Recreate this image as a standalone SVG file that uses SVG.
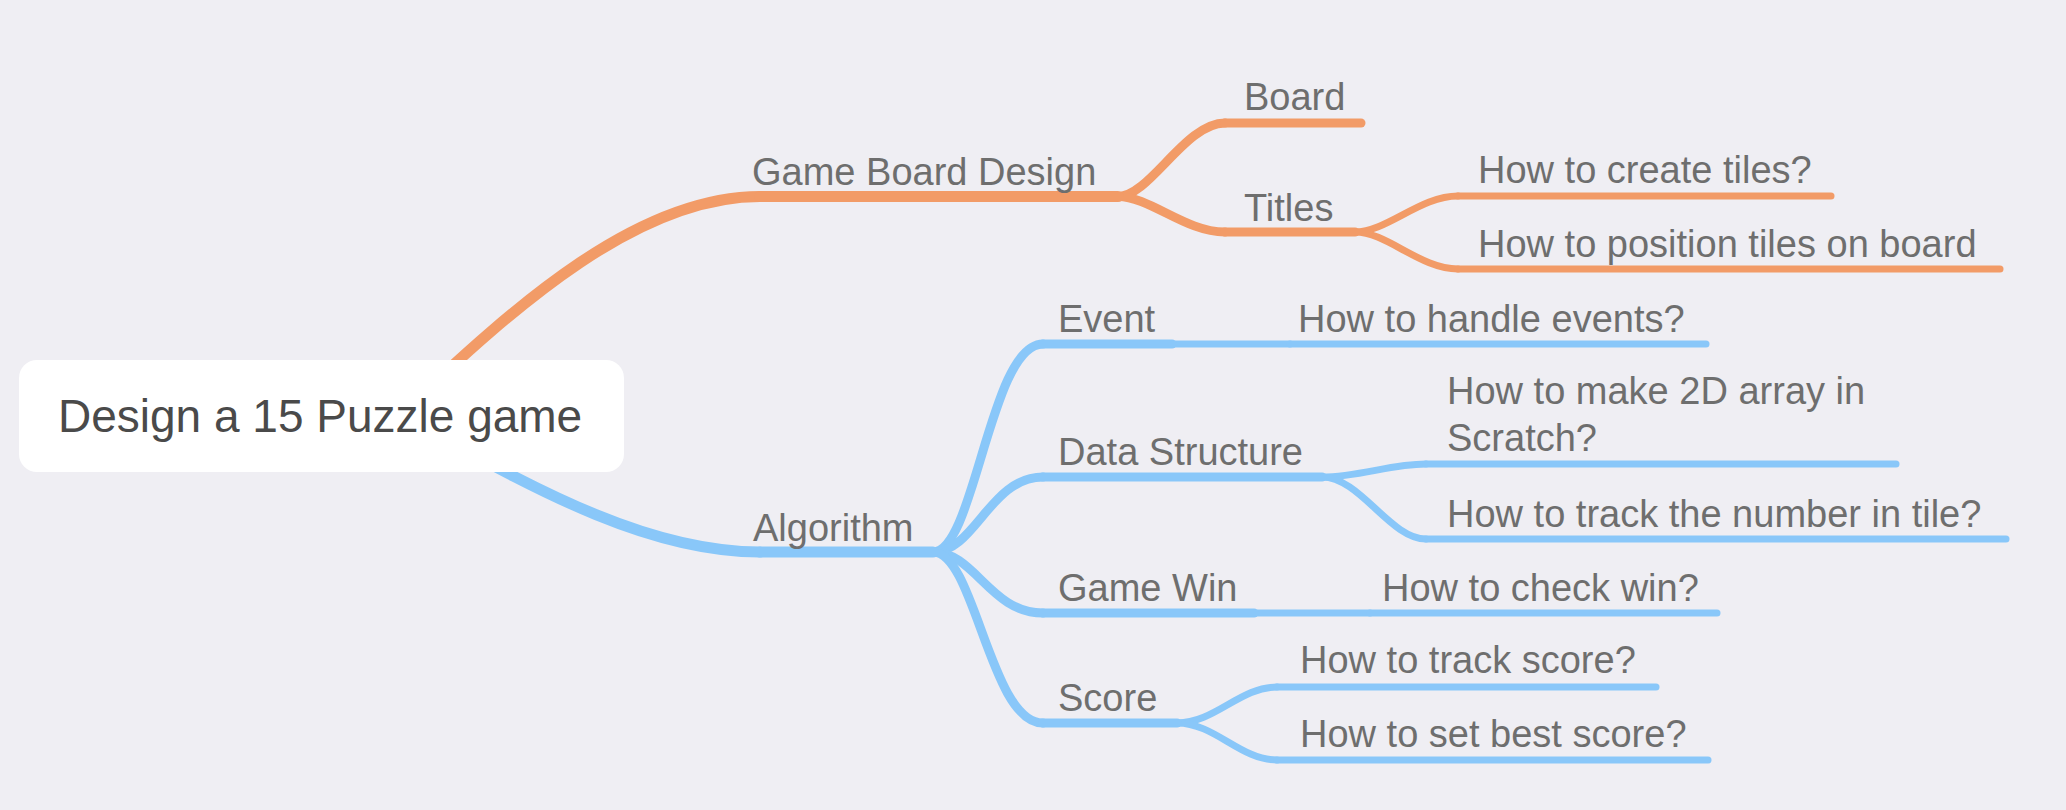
<svg xmlns="http://www.w3.org/2000/svg" width="2066" height="810" viewBox="0 0 2066 810">
<style>
  .bg{fill:#efeef3}
  .c{fill:none;stroke-linecap:round;stroke-linejoin:round}
  .o{stroke:#f29b67}
  .b{stroke:#89c7f9}
  .w1{stroke-width:11}
  .w2{stroke-width:9}
  .w3{stroke-width:7}
  .t{font-family:"Liberation Sans",Arial,Helvetica,sans-serif;font-size:38px;fill:#6e6e6e}
  .root{font-family:"Liberation Sans",Arial,Helvetica,sans-serif;font-size:46px;fill:#4a4a4a}
</style>
<rect class="bg" x="0" y="0" width="2066" height="810"/>

<g id="connectors">
  <!-- root to level 1 -->
  <path class="c o w1" d="M400,415 C520,300 640,196.5 760,196.5"/>
  <path class="c b w1" d="M400,415 C520,480 640,552 760,552"/>
  <!-- Game Board Design children -->
  <path class="c o w2" d="M1118,196.5 C1150,196.5 1185,123 1225,123"/>
  <path class="c o w2" d="M1118,196.5 C1150,196.5 1185,232 1225,232"/>
  <!-- Titles children -->
  <path class="c o w3" d="M1355,232 C1387,232 1420,196 1458,196"/>
  <path class="c o w3" d="M1355,232 C1387,232 1420,269 1458,269"/>
  <!-- Algorithm children -->
  <path class="c b w2" d="M933,552 C975,552 990,344 1043,344"/>
  <path class="c b w2" d="M933,552 C975,552 990,477 1043,477"/>
  <path class="c b w2" d="M933,552 C975,552 990,613 1043,613"/>
  <path class="c b w2" d="M933,552 C975,552 990,723 1043,723"/>
  <!-- Event child -->
  <path class="c b w3" d="M1172,344 L1290,344"/>
  <!-- Data Structure children -->
  <path class="c b w3" d="M1322,477 C1360,477 1390,464 1426,464"/>
  <path class="c b w3" d="M1322,477 C1360,477 1390,539 1426,539"/>
  <!-- Game Win child -->
  <path class="c b w3" d="M1254,613 L1370,613"/>
  <!-- Score children -->
  <path class="c b w3" d="M1177,723 C1215,723 1240,687 1277,687"/>
  <path class="c b w3" d="M1177,723 C1215,723 1240,760 1277,760"/>
</g>

<g id="root">
  <rect x="19" y="360" width="605" height="112" rx="18" ry="18" fill="#ffffff"/>
  <text class="root" x="58" y="432">Design a 15 Puzzle game</text>
</g>

<g id="game-board-design">
  <line class="c o w1" x1="760" y1="196.5" x2="1118" y2="196.5"/>
  <text class="t" x="752" y="185">Game Board Design</text>
</g>
<g id="board">
  <line class="c o w2" x1="1225" y1="123" x2="1361" y2="123"/>
  <text class="t" x="1244" y="110">Board</text>
</g>
<g id="titles">
  <line class="c o w2" x1="1225" y1="232" x2="1355" y2="232"/>
  <text class="t" x="1244" y="221">Titles</text>
</g>
<g id="create-tiles">
  <line class="c o w3" x1="1458" y1="196" x2="1831" y2="196"/>
  <text class="t" x="1478" y="183">How to create tiles?</text>
</g>
<g id="position-tiles">
  <line class="c o w3" x1="1458" y1="269" x2="2000" y2="269"/>
  <text class="t" x="1478" y="257">How to position tiles on board</text>
</g>

<g id="algorithm">
  <line class="c b w1" x1="760" y1="552" x2="933" y2="552"/>
  <text class="t" x="753" y="541">Algorithm</text>
</g>
<g id="event">
  <line class="c b w2" x1="1043" y1="344" x2="1172" y2="344"/>
  <text class="t" x="1058" y="332">Event</text>
</g>
<g id="handle-events">
  <line class="c b w3" x1="1290" y1="344" x2="1706" y2="344"/>
  <text class="t" x="1298" y="332">How to handle events?</text>
</g>
<g id="data-structure">
  <line class="c b w2" x1="1043" y1="477" x2="1322" y2="477"/>
  <text class="t" x="1058" y="465">Data Structure</text>
</g>
<g id="array-2d">
  <line class="c b w3" x1="1426" y1="464" x2="1896" y2="464"/>
  <text class="t" x="1447" y="404"><tspan x="1447" y="404">How to make 2D array in</tspan><tspan x="1447" y="451">Scratch?</tspan></text>
</g>
<g id="track-number">
  <line class="c b w3" x1="1426" y1="539" x2="2006" y2="539"/>
  <text class="t" x="1447" y="527">How to track the number in tile?</text>
</g>
<g id="game-win">
  <line class="c b w2" x1="1043" y1="613" x2="1254" y2="613"/>
  <text class="t" x="1058" y="601">Game Win</text>
</g>
<g id="check-win">
  <line class="c b w3" x1="1370" y1="613" x2="1717" y2="613"/>
  <text class="t" x="1382" y="601">How to check win?</text>
</g>
<g id="score">
  <line class="c b w2" x1="1043" y1="723" x2="1177" y2="723"/>
  <text class="t" x="1058" y="711">Score</text>
</g>
<g id="track-score">
  <line class="c b w3" x1="1277" y1="687" x2="1656" y2="687"/>
  <text class="t" x="1300" y="673">How to track score?</text>
</g>
<g id="best-score">
  <line class="c b w3" x1="1277" y1="760" x2="1708" y2="760"/>
  <text class="t" x="1300" y="747">How to set best score?</text>
</g>
</svg>
